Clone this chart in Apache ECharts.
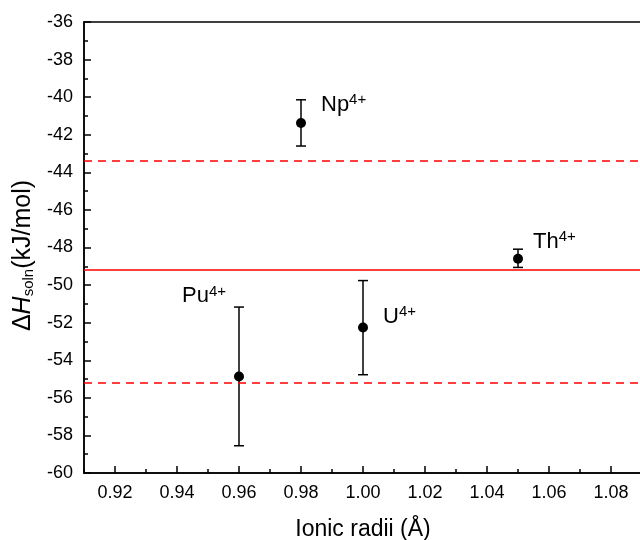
<!DOCTYPE html>
<html>
<head>
<meta charset="utf-8">
<script src="https://cdn.jsdelivr.net/npm/echarts@6/dist/echarts.min.js"></script>
<style>
	html, body { margin: 0; padding: 0; background: #fff; }
	#chart { width: 640px; height: 540px; }
</style>
</head>
<body>
<div id="chart"></div>
<script>
// ions and their values (kJ/mol)
const ions = ['Pu', 'U', 'Np', 'Th'];
const radii = [0.96, 1.00, 0.98, 1.05];
const dH = [-54.86, -52.26, -41.37, -48.6];
const errLow = [-58.55, -54.77, -42.6, -49.06];
const errHigh = [-51.17, -49.76, -40.14, -48.09];
const meanLine = -49.19;
const bandLines = [-43.39, -55.18];
const xMajor = [0.92, 0.94, 0.96, 0.98, 1.00, 1.02, 1.04, 1.06, 1.08];
const xMinor = [0.91, 0.93, 0.95, 0.97, 0.99, 1.01, 1.03, 1.05, 1.07, 1.09];

// where each label sits next to its point
const labelSide = ['left', 'right', 'right', 'right'];
const labelOffset = [[-8, -80], [15, -11], [15, -18], [10, -17]];

const font = 'Liberation Sans, Arial, sans-serif';
const chart = echarts.init(document.getElementById('chart'));

const points = radii.map((x, i) => ({
	value: [x, dH[i]],
	label: {
		show: true,
		position: labelSide[i],
		distance: 0,
		offset: labelOffset[i],
		formatter: '{b|' + ions[i] + '}{s|4+}'
	}
}));

const bars = radii.map((x, i) => [x, errLow[i], errHigh[i]]);

const option = {
	animation: false,
	textStyle: { fontFamily: font },
	grid: {
		left: 84,
		right: -2,
		top: 22,
		bottom: 67,
		outerBoundsMode: 'none',
		containLabel: false,
		show: true,
		borderColor: '#000',
		borderWidth: 1.5
	},
	xAxis: [
		{
			type: 'value',
			min: 0.91,
			max: 1.09,
			interval: 0.01,
			name: 'Ionic radii (Å)',
			nameLocation: 'middle',
			nameGap: 45,
			nameTextStyle: { fontSize: 23, color: '#000', fontFamily: font },
			axisLine: { show: true, onZero: false, lineStyle: { color: '#000', width: 1.5 } },
			axisTick: { show: true, inside: true, length: 7, customValues: xMajor, lineStyle: { color: '#000', width: 1.5 } },
			axisLabel: {
				customValues: xMajor,
				fontSize: 18,
				color: '#000',
				margin: 11,
				formatter: (v) => v.toFixed(2)
			},
			splitLine: { show: false }
		},
		{
			type: 'value',
			position: 'bottom',
			min: 0.91,
			max: 1.09,
			axisLine: { show: false, onZero: false },
			axisTick: { show: true, inside: true, length: 4, customValues: xMinor, lineStyle: { color: '#000', width: 1.5 } },
			axisLabel: { show: false },
			splitLine: { show: false }
		}
	],
	yAxis: {
		type: 'value',
		min: -60,
		max: -36,
		interval: 2,
		name: '{t|Δ}{h|H}{s|soln}{t|(kJ/mol)}',
		nameLocation: 'middle',
		nameGap: 48,
		nameTextStyle: {
			color: '#000',
			padding: [0, 16, 0, 0],
			rich: {
				t: { fontSize: 25, fontFamily: font, color: '#000' },
				h: { fontSize: 25, fontFamily: font, fontStyle: 'italic', color: '#000' },
				s: { fontSize: 15, fontFamily: font, color: '#000', verticalAlign: 'bottom', padding: [10, 0, 0, 0] }
			}
		},
		axisLine: { show: true, onZero: false, lineStyle: { color: '#000', width: 1.5 } },
		axisTick: { show: true, inside: true, length: 7, lineStyle: { color: '#000', width: 1.5 } },
		minorTick: { show: true, splitNumber: 2, length: 4, lineStyle: { color: '#000', width: 1.5 } },
		axisLabel: { fontSize: 18, color: '#000', margin: 11 },
		splitLine: { show: false }
	},
	series: [
		{
			type: 'custom',
			xAxisIndex: 0,
			data: bars,
			renderItem: (params, api) => {
				const top = api.coord([api.value(0), api.value(2)]);
				const bot = api.coord([api.value(0), api.value(1)]);
				const half = 5;
				const style = { stroke: '#000', lineWidth: 1.5 };
				return {
					type: 'group',
					children: [
						{ type: 'line', shape: { x1: top[0], y1: top[1], x2: bot[0], y2: bot[1] }, style },
						{ type: 'line', shape: { x1: top[0] - half, y1: top[1], x2: top[0] + half, y2: top[1] }, style },
						{ type: 'line', shape: { x1: bot[0] - half, y1: bot[1], x2: bot[0] + half, y2: bot[1] }, style }
					]
				};
			},
			z: 3
		},
		{
			type: 'scatter',
			xAxisIndex: 0,
			symbol: 'circle',
			symbolSize: 10,
			itemStyle: { color: '#000', opacity: 1 },
			label: {
				color: '#000',
				rich: {
					b: { fontSize: 22, fontFamily: font, color: '#000' },
					s: { fontSize: 15, fontFamily: font, color: '#000', verticalAlign: 'top', padding: [0, 0, 10, 0] }
				}
			},
			data: points,
			z: 4,
			markLine: {
				silent: true,
				symbol: 'none',
				label: { show: false },
				data: [
					{ yAxis: meanLine, lineStyle: { color: '#ff0000', width: 1.5, type: 'solid' } },
					{ yAxis: bandLines[0], lineStyle: { color: '#ff0000', width: 1.5, type: [8, 6] } },
					{ yAxis: bandLines[1], lineStyle: { color: '#ff0000', width: 1.5, type: [8, 6] } }
				]
			}
		}
	]
};

chart.setOption(option);
</script>
</body>
</html>
